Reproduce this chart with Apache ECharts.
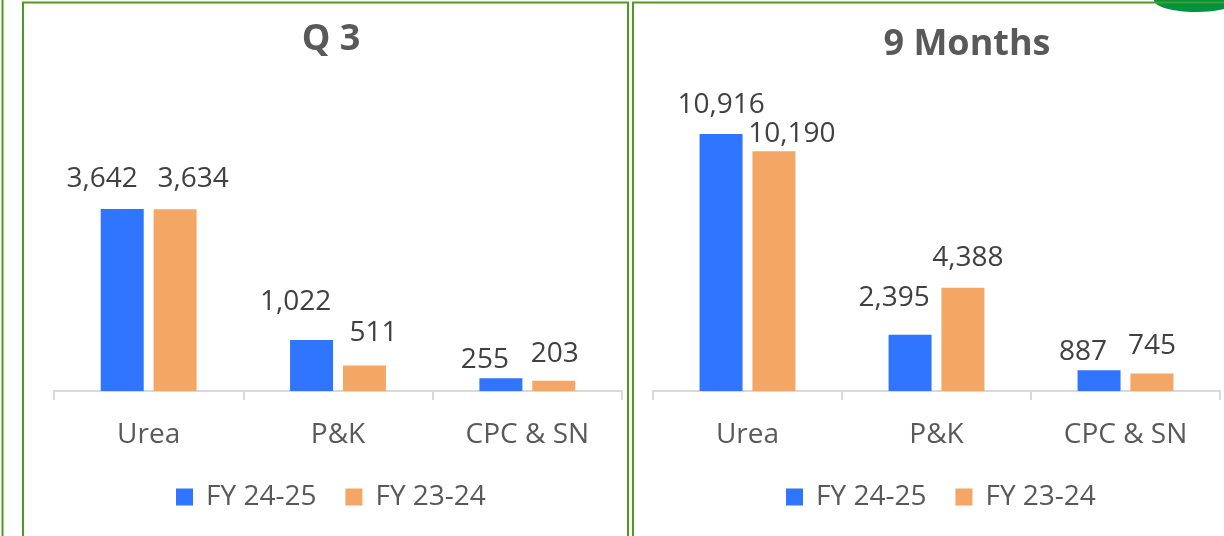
<!DOCTYPE html>
<html><head><meta charset="utf-8">
<script src="https://cdn.jsdelivr.net/npm/echarts@6/dist/echarts.min.js"></script>
<style>html,body{margin:0;padding:0;background:#fff}#c{width:1224px;height:536px}</style>
</head><body><div id="c"></div>
<script>
const categories = ["Urea", "P&K", "CPC & SN"];
const seriesNames = ["FY 24-25", "FY 23-24"];
const q3Current = [3642, 1022, 255];
const q3Previous = [3634, 511, 203];
const nineCurrent = [10916, 2395, 887];
const ninePrevious = [10190, 4388, 745];
const titles = ["Q 3", "9 Months"];

// label nudges (style only), as in the original manually placed labels
const q3CurrentOffsets = [[-20, -8], [-16, -16], [-16, 4]];
const q3PreviousOffsets = [[18, -8], [9, -10], [1, -5]];
const nineCurrentOffsets = [[0, -7], [-16, -15], [-16, 4]];
const ninePreviousOffsets = [[18, 5], [5, -8], [0, -5]];

const FONT = "Open Sans";
const BLUE = "#2F75FF", ORANGE = "#F4A664", GREEN = "#4E9A1E";
const chart = echarts.init(document.getElementById('c'), null, {renderer: 'canvas'});

const fmt = v => v.value.toLocaleString('en-US');
function bar(name, values, offsets, idx, color) {
  return {
    name, type: 'bar', xAxisIndex: idx, yAxisIndex: idx,
    data: values,
    barWidth: 43, barGap: '23%',
    itemStyle: {color},
    labelLayout: p => ({dx: offsets[p.dataIndex][0], dy: offsets[p.dataIndex][1], hideOverlap: false}),
    label: {show: true, position: 'top', distance: 8, formatter: fmt,
      fontFamily: FONT, fontSize: 28, color: '#404040'}
  };
}
function xAx(idx) {
  return {type: 'category', gridIndex: idx, data: categories,
    axisLine: {lineStyle: {color: '#D9D9D9', width: 2}},
    axisTick: {show: true, length: 9, lineStyle: {color: '#D9D9D9', width: 2}},
    axisLabel: {fontFamily: FONT, fontSize: 28, color: '#595959', margin: 30}};
}
function yAx(idx, max) {
  return {type: 'value', gridIndex: idx, min: 0, max, show: false, splitLine: {show: false}};
}
function legend(idx, left) {
  return {left, top: 478, itemWidth: 17, itemHeight: 17, itemGap: 29,
    icon: 'rect', data: seriesNames.map(n => ({name: n})),
    textStyle: {fontFamily: FONT, fontSize: 28, color: '#595959', padding: [0, 0, 0, 8]}};
}

chart.setOption({
  animation: false,
  title: [
    {text: titles[0], left: 326, top: 17, textAlign: 'center',
      textStyle: {fontFamily: FONT, fontSize: 36, fontWeight: 'bold', color: '#595959'}},
    {text: titles[1], left: 962, top: 22, textAlign: 'center',
      textStyle: {fontFamily: FONT, fontSize: 36, fontWeight: 'bold', color: '#595959'}}
  ],
  legend: [legend(0, 171), legend(1, 781)],
  grid: [
    {left: 54, right: 602, top: 41, bottom: 145},
    {left: 653, right: 4, top: 38, bottom: 145}
  ],
  xAxis: [xAx(0), xAx(1)],
  yAxis: [yAx(0, 7000), yAx(1, 15000)],
  series: [
    bar(seriesNames[0], q3Current, q3CurrentOffsets, 0, BLUE),
    bar(seriesNames[1], q3Previous, q3PreviousOffsets, 0, ORANGE),
    bar(seriesNames[0], nineCurrent, nineCurrentOffsets, 1, BLUE),
    bar(seriesNames[1], ninePrevious, ninePreviousOffsets, 1, ORANGE)
  ],
  graphic: [
    {type: 'ellipse', shape: {cx: 1196, cy: 0, rx: 42, ry: 12}, style: {fill: '#00923F'}, z: 1},
    {type: 'line', shape: {x1: 2.5, y1: 0, x2: 2.5, y2: 536}, style: {stroke: GREEN, lineWidth: 2}},
    {type: 'rect', shape: {x: 23, y: 2.5, width: 605, height: 600}, style: {fill: null, stroke: GREEN, lineWidth: 2}},
    {type: 'rect', shape: {x: 633, y: 2.5, width: 600, height: 600}, style: {fill: null, stroke: GREEN, lineWidth: 2}, z: 2}
  ]
});
</script></body></html>
